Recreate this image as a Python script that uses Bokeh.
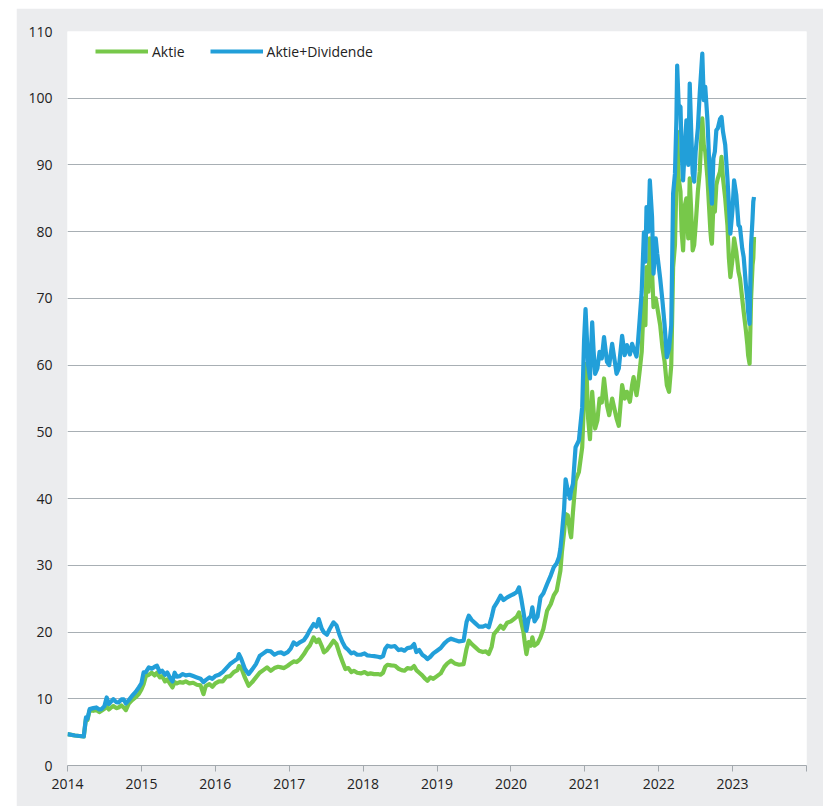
from bokeh.plotting import figure
from bokeh.layouts import row, column
from bokeh.models import ColumnDataSource, Legend, LegendItem, FixedTicker, Range1d, Spacer
from bokeh.embed import file_html
from bokeh.resources import INLINE

# decimal years
years = [
    2014.00, 2014.10, 2014.22, 2014.25, 2014.27, 2014.30, 2014.35, 2014.39, 2014.43, 2014.46,
    2014.50, 2014.53, 2014.56, 2014.58, 2014.62, 2014.66, 2014.69, 2014.73, 2014.76, 2014.79,
    2014.83, 2014.875, 2014.92, 2014.965, 2015.00, 2015.03, 2015.06, 2015.10, 2015.14, 2015.18,
    2015.21, 2015.25, 2015.28, 2015.32, 2015.35, 2015.38, 2015.42, 2015.45, 2015.48, 2015.52,
    2015.56, 2015.60, 2015.65, 2015.70, 2015.75, 2015.80, 2015.84, 2015.87, 2015.92, 2015.96,
    2016.00, 2016.05, 2016.10, 2016.15, 2016.20, 2016.25, 2016.30, 2016.32, 2016.35, 2016.40,
    2016.45, 2016.50, 2016.55, 2016.60, 2016.65, 2016.70, 2016.75, 2016.80, 2016.85, 2016.89,
    2016.93, 2016.98, 2017.02, 2017.06, 2017.10, 2017.15, 2017.20, 2017.24, 2017.28, 2017.33,
    2017.37, 2017.40, 2017.44, 2017.47, 2017.51, 2017.55, 2017.60, 2017.64, 2017.68, 2017.72,
    2017.76, 2017.80, 2017.84, 2017.875, 2017.92, 2017.97, 2018.02, 2018.06, 2018.10, 2018.15,
    2018.20, 2018.235, 2018.27, 2018.30, 2018.33, 2018.38, 2018.43, 2018.48, 2018.52, 2018.56,
    2018.60, 2018.65, 2018.69, 2018.72, 2018.76, 2018.80, 2018.84, 2018.87, 2018.91, 2018.95,
    2019.00, 2019.05, 2019.10, 2019.14, 2019.19, 2019.24, 2019.30, 2019.36, 2019.40, 2019.43,
    2019.47, 2019.52, 2019.57, 2019.62, 2019.66, 2019.70, 2019.74, 2019.77, 2019.81, 2019.86,
    2019.90, 2019.95, 2020.00, 2020.04, 2020.08, 2020.11, 2020.14, 2020.17, 2020.19, 2020.21,
    2020.24, 2020.27, 2020.29, 2020.32, 2020.36, 2020.40, 2020.44, 2020.49, 2020.54, 2020.58,
    2020.62, 2020.65, 2020.67, 2020.69, 2020.72, 2020.74, 2020.77, 2020.80, 2020.815, 2020.84,
    2020.875, 2020.92, 2020.965, 2020.99, 2021.01, 2021.02, 2021.045, 2021.07, 2021.10, 2021.12,
    2021.14, 2021.17, 2021.20, 2021.23, 2021.26, 2021.30, 2021.33, 2021.37, 2021.40, 2021.43,
    2021.46, 2021.505, 2021.54, 2021.57, 2021.61, 2021.64, 2021.66, 2021.70, 2021.72, 2021.745,
    2021.77, 2021.80, 2021.82, 2021.835, 2021.86, 2021.88, 2021.91, 2021.93, 2021.96, 2021.98,
    2022.02, 2022.05, 2022.08, 2022.11, 2022.14, 2022.17, 2022.195, 2022.22, 2022.24, 2022.25,
    2022.27, 2022.295, 2022.31, 2022.33, 2022.355, 2022.375, 2022.40, 2022.42, 2022.44, 2022.46,
    2022.48, 2022.50, 2022.53, 2022.555, 2022.59, 2022.61, 2022.63, 2022.66, 2022.68, 2022.70,
    2022.71, 2022.72, 2022.74, 2022.76, 2022.78, 2022.80, 2022.83, 2022.85, 2022.87, 2022.90,
    2022.93, 2022.95, 2022.97, 2023.00, 2023.02, 2023.05, 2023.08, 2023.10, 2023.13, 2023.15,
    2023.18, 2023.20, 2023.21, 2023.23, 2023.25, 2023.27, 2023.28, 2023.29,
]

aktie = [
    4.7, 4.5, 4.35, 7.0, 6.8, 8.3, 8.2, 8.3, 8.0, 8.2,
    8.5, 8.8, 8.4, 8.6, 8.9, 8.6, 8.7, 9.0, 8.7, 8.3,
    9.3, 9.8, 10.2, 10.7, 11.4, 12.2, 13.4, 13.6, 13.9, 13.5,
    13.9, 13.2, 13.4, 12.6, 12.9, 12.4, 11.7, 12.5, 12.3, 12.5,
    12.4, 12.6, 12.3, 12.4, 12.1, 12.0, 10.7, 11.9, 12.2, 11.8,
    12.3, 12.6, 12.6, 13.3, 13.4, 14.0, 14.3, 14.9, 14.7, 13.2,
    11.95, 12.5, 13.2, 13.9, 14.3, 14.7, 14.2, 14.6, 14.8, 14.7,
    14.6, 14.95, 15.3, 15.6, 15.5, 15.95, 16.7, 17.45, 18.0, 19.2,
    18.5, 18.9, 17.9, 16.95, 17.3, 17.9, 18.7, 18.2, 16.8, 15.6,
    14.45, 14.6, 14.0, 14.2, 13.9, 13.8, 14.0, 13.7, 13.8, 13.7,
    13.7, 13.6, 13.9, 14.8, 15.1, 15.0, 14.95, 14.5, 14.3, 14.2,
    14.6, 14.5, 14.9, 14.3, 13.9, 13.5, 13.0, 12.7, 13.2, 13.0,
    13.4, 13.8, 14.8, 15.3, 15.7, 15.3, 15.1, 15.2, 17.5, 18.7,
    18.2, 17.7, 17.2, 17.0, 17.1, 16.7, 17.8, 19.7, 20.2, 20.95,
    20.5, 21.4, 21.6, 21.95, 22.3, 22.95, 21.5, 20.0, 18.2, 16.7,
    18.5, 17.95, 19.2, 17.95, 18.3, 19.2, 20.5, 23.2, 24.2, 25.5,
    26.2, 28.0, 29.2, 32.0, 35.0, 37.7, 37.5, 35.0, 34.2, 38.0,
    42.7, 44.0, 47.7, 55.0, 59.0, 60.2, 52.0, 48.9, 56.0, 53.0,
    50.5, 51.7, 55.0, 54.4, 58.0, 54.0, 52.5, 55.0, 53.5, 52.0,
    50.9, 57.0, 55.0, 56.0, 54.5, 57.0, 58.2, 55.5, 57.0, 59.4,
    62.0, 70.0, 66.0, 74.7, 71.0, 79.0, 74.0, 68.7, 70.0, 68.7,
    66.0, 62.7, 60.5, 57.0, 56.0, 60.0, 74.7, 78.0, 87.7, 95.0,
    88.0, 86.0, 80.0, 77.2, 84.0, 85.0, 79.0, 88.0, 83.0, 77.2,
    78.0, 81.0, 86.0, 89.0, 97.0, 93.0, 92.0, 88.0, 84.0, 80.0,
    78.7, 78.2, 84.0, 83.0, 87.0, 88.0, 89.0, 91.2, 88.0, 85.0,
    81.0, 76.0, 73.2, 76.0, 79.0, 77.0, 74.0, 73.0, 70.0, 68.0,
    65.2, 63.0, 61.5, 60.2, 70.0, 75.0, 76.0, 79.2,
]

aktie_dividende = [
    4.7, 4.5, 4.35, 7.2, 7.0, 8.45, 8.6, 8.7, 8.4, 8.45,
    8.9, 10.2, 9.2, 9.45, 9.95, 9.5, 9.45, 9.9, 9.9, 9.3,
    9.8, 10.45, 11.0, 11.7, 12.3, 13.95, 14.0, 14.7, 14.5, 14.8,
    14.95, 14.0, 14.2, 13.6, 13.95, 13.3, 12.6, 13.9, 13.3, 13.4,
    13.7, 13.5, 13.6, 13.4, 13.2, 13.0, 12.5, 12.8, 13.2, 13.0,
    13.4, 13.6, 14.0, 14.6, 15.2, 15.6, 16.0, 16.7, 16.0, 14.5,
    13.7, 14.4, 15.2, 16.4, 16.8, 17.2, 17.1, 16.6, 16.9, 16.95,
    16.7, 17.0, 17.5, 18.45, 18.1, 18.5, 18.8, 19.45, 20.3, 21.2,
    20.8, 21.95, 20.5, 19.95, 19.6, 20.5, 21.45, 21.0, 19.6, 18.5,
    17.7, 17.3, 16.8, 16.95, 16.6, 16.6, 16.8, 16.5, 16.45, 16.4,
    16.3, 16.2, 16.4, 17.5, 17.95, 17.8, 17.9, 17.3, 17.4, 17.2,
    17.6, 17.7, 18.2, 17.0, 17.3, 16.6, 16.3, 15.95, 16.3, 16.8,
    17.2, 17.6, 18.3, 18.7, 19.0, 18.8, 18.6, 18.7, 21.5, 22.45,
    21.8, 21.3, 20.8, 20.8, 21.0, 20.7, 22.3, 23.7, 24.4, 25.45,
    24.8, 25.2, 25.5, 25.7, 26.0, 26.7, 25.0, 23.0, 21.5, 20.2,
    22.0, 22.4, 23.7, 21.6, 22.3, 25.2, 25.8, 27.2, 28.5, 29.7,
    30.3, 31.2, 32.5, 34.7, 38.5, 42.9, 41.2, 40.0, 41.2, 42.2,
    47.7, 48.7, 53.7, 63.7, 68.4, 66.0, 60.0, 58.0, 66.4, 62.0,
    58.7, 59.5, 62.0, 61.0, 64.2, 60.5, 60.0, 63.2, 61.0, 58.7,
    59.5, 64.4, 61.5, 63.0, 61.6, 63.2, 62.5, 61.3, 63.5, 67.2,
    71.0, 79.9, 75.5, 83.7, 80.0, 87.7, 82.2, 73.7, 79.0, 76.7,
    73.0, 69.7, 66.0, 61.2, 62.5, 66.0, 85.7, 88.7, 97.0, 104.9,
    99.0, 98.7, 92.0, 87.7, 93.0, 96.7, 90.0, 102.2, 95.0, 88.7,
    87.5, 92.0, 95.5, 100.7, 106.7, 99.7, 101.7, 96.7, 91.2, 87.0,
    86.0, 84.2, 91.0, 92.0, 95.2, 95.5, 96.9, 97.2, 95.0, 93.0,
    88.0, 84.0, 79.7, 83.5, 87.7, 85.5, 81.0, 80.7, 77.5, 76.2,
    72.0, 69.7, 68.0, 66.2, 78.0, 82.0, 84.5, 85.2,
]

year_ticks = [2014, 2015, 2016, 2017, 2018, 2019, 2020, 2021, 2022, 2023, 2024]
y_ticks = [0, 10, 20, 30, 40, 50, 60, 70, 80, 90, 100, 110]
series_names = ["Aktie", "Aktie+Dividende"]

GREEN = "#77c84a"
BLUE = "#229fd9"
BG = "#ebecee"
FONT = "Open Sans"

src = ColumnDataSource(dict(x=years, a=aktie, b=aktie_dividende))

p = figure(width=807, height=798, output_backend="svg", toolbar_location=None,
           x_range=Range1d(2014, 2024), y_range=Range1d(0, 110),
           min_border_left=51, min_border_right=17, min_border_top=23, min_border_bottom=41,
           background_fill_color="white", border_fill_color=BG, outline_line_color=None)

r1 = p.line("x", "a", source=src, line_color=GREEN, line_width=4.2, line_join="round")
r2 = p.line("x", "b", source=src, line_color=BLUE, line_width=4.2, line_join="round")

# axes
p.xaxis.ticker = FixedTicker(ticks=year_ticks)
p.xaxis.major_label_overrides = {2024: ""}
p.xaxis.axis_line_color = "#a3a9ae"
p.xaxis.major_tick_line_color = "#a3a9ae"
p.xaxis.major_tick_out = 6
p.xaxis.major_tick_in = 0
p.xaxis.minor_tick_line_color = None
p.xaxis.major_label_standoff = 7
p.xaxis.major_label_text_font = FONT
p.xaxis.major_label_text_font_size = "14px"
p.xaxis.major_label_text_color = "#222222"

p.yaxis.ticker = FixedTicker(ticks=y_ticks)
p.yaxis.axis_line_color = None
p.yaxis.major_tick_line_color = None
p.yaxis.minor_tick_line_color = None
p.yaxis.major_tick_out = 0
p.yaxis.major_tick_in = 0
p.yaxis.major_label_standoff = 15
p.yaxis.major_label_text_font = FONT
p.yaxis.major_label_text_font_size = "14px"
p.yaxis.major_label_text_color = "#222222"

p.xgrid.grid_line_color = None
p.ygrid.ticker = FixedTicker(ticks=y_ticks)
p.ygrid.grid_line_color = "#a8afb4"
p.ygrid.grid_line_width = 1

legend = Legend(items=[LegendItem(label=series_names[0], renderers=[r1]),
                       LegendItem(label=series_names[1], renderers=[r2])],
                orientation="horizontal", location=(28, 703.7),
                padding=0, margin=0, spacing=25, glyph_width=53, glyph_height=20,
                label_standoff=4, label_text_font=FONT, label_text_font_size="14px",
                label_text_color="#222222", background_fill_alpha=0,
                border_line_color=None)
p.add_layout(legend, "center")

layout = column(Spacer(width=823, height=8), row(Spacer(width=16, height=798), p))
open("out.html", "w").write(file_html(layout, INLINE))
